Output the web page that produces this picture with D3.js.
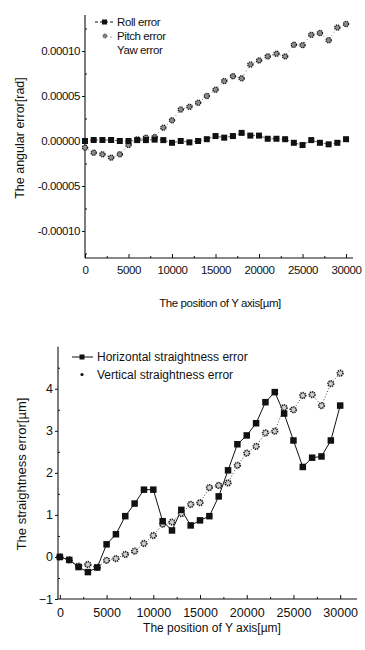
<!DOCTYPE html>
<html>
<head>
<meta charset="utf-8">
<script src="https://cdn.jsdelivr.net/npm/d3@7"></script>
<style>
  body { margin: 0; background: #fff; }
  svg { display: block; }
  text { fill: #111; }
</style>
</head>
<body>
<div id="chart"></div>
<script>
// positions along Y axis, um
const posY = [0, 1000, 2000, 3000, 4000, 5000, 6000, 7000, 8000, 9000, 10000,
  11000, 12000, 13000, 14000, 15000, 16000, 17000, 18000, 19000, 20000,
  21000, 22000, 23000, 24000, 25000, 26000, 27000, 28000, 29000, 30000];

// angular errors, rad
const rollErr = [0, 1.1e-6, 1.1e-6, 1.1e-6, 0, 0, 1e-6, 1e-6, 1.5e-6, 1e-6, -2e-6,
  0, -1.5e-6, 0, 2e-6, 5.5e-6, 3.7e-6, 5.5e-6, 9e-6, 6e-6, 6e-6,
  2.5e-6, 2.5e-6, 2e-6, -2e-6, -4.5e-6, 1e-6, -2e-6, -3.7e-6, -2e-6, 2e-6];
const pitchErr = [-7.4e-6, -13e-6, -14.8e-6, -18.5e-6, -14.8e-6, -4.4e-6, 1.8e-6, 3.7e-6, 4.4e-6, 14.8e-6, 23e-6,
  35e-6, 38e-6, 42.5e-6, 50e-6, 57e-6, 66.6e-6, 72e-6, 69.6e-6, 85e-6, 89.5e-6,
  94e-6, 97e-6, 94e-6, 107e-6, 106.5e-6, 118e-6, 120e-6, 112e-6, 126e-6, 130e-6];

// straightness errors, um
const horizErr = [0, -0.07, -0.24, -0.36, -0.25, 0.3, 0.54, 0.97, 1.27, 1.6, 1.6,
  0.85, 0.63, 1.12, 0.75, 0.87, 0.97, 1.44, 2.06, 2.68, 2.89,
  3.18, 3.68, 3.92, 3.41, 2.77, 2.14, 2.36, 2.39, 2.77, 3.6];
const vertErr = [0, -0.07, -0.22, -0.18, -0.25, -0.08, -0.04, 0.06, 0.14, 0.32, 0.51,
  0.78, 0.83, 1.03, 1.25, 1.29, 1.65, 1.7, 1.76, 2.18, 2.47,
  2.63, 2.95, 2.99, 3.55, 3.5, 3.84, 3.86, 3.6, 4.12, 4.37];

const angTicks = [-0.0001, -0.00005, 0, 0.00005, 0.0001];
const strTicks = [-1, 0, 1, 2, 3, 4];
const posTicks = [0, 5000, 10000, 15000, 20000, 25000, 30000];

const W = 365, H = 650;
const svg = d3.select("#chart").append("svg").attr("width", W).attr("height", H);

const narrow = "'Liberation Sans Narrow', 'Arial Narrow', 'Liberation Sans', Arial, sans-serif";
const sans = "'Liberation Sans', Arial, sans-serif";

function fmtAng(d) {
  return (d < 0 ? "-" : "") + Math.abs(d).toFixed(5);
}

function drawFrame(g, x, y, opt) {
  const [x0, x1] = x.range();
  const [y0, y1] = y.range();
  // axis lines
  g.append("line").attr("x1", x0).attr("x2", x0).attr("y1", y0).attr("y2", y1)
    .attr("stroke", "#111").attr("stroke-width", 1.1);
  g.append("line").attr("x1", x0).attr("x2", x1).attr("y1", y0).attr("y2", y0)
    .attr("stroke", "#111").attr("stroke-width", 1.1);

  // x ticks (inside)
  const xAx = d3.axisBottom(x).tickValues(opt.xTicks).tickSize(-4).tickPadding(opt.xPad)
    .tickFormat(d3.format("d"));
  const gx = g.append("g").attr("transform", `translate(0,${y0})`).call(xAx);
  gx.select(".domain").remove();
  gx.selectAll("text").attr("font-family", opt.font).attr("font-size", opt.tickSize)
    .attr("letter-spacing", opt.spacing);

  const xMinor = d3.axisBottom(x).tickValues(opt.xTicks.slice(0, -1).map(d => d + 2500))
    .tickSize(-2).tickFormat("");
  const gxm = g.append("g").attr("transform", `translate(0,${y0})`).call(xMinor);
  gxm.select(".domain").remove();

  // y ticks (outside, short)
  const yAx = d3.axisLeft(y).tickValues(opt.yTicks).tickSize(3).tickPadding(2)
    .tickFormat(opt.yFormat);
  const gy = g.append("g").attr("transform", `translate(${x0},0)`).call(yAx);
  gy.select(".domain").remove();
  gy.selectAll("text").attr("font-family", opt.font).attr("font-size", opt.tickSize)
    .attr("letter-spacing", opt.spacing);

  const yMinor = d3.axisLeft(y).tickValues(opt.yMinor).tickSize(-2).tickFormat("");
  const gym = g.append("g").attr("transform", `translate(${x0},0)`).call(yMinor);
  gym.select(".domain").remove();

  g.selectAll(".tick line").attr("stroke", "#111");

  // axis titles
  g.append("text").attr("x", opt.xLabelPos[0]).attr("y", opt.xLabelPos[1])
    .attr("text-anchor", "middle").attr("font-family", opt.font)
    .attr("font-size", opt.labelSize).attr("letter-spacing", opt.spacing).text(opt.xLabel);
  g.append("text")
    .attr("transform", `translate(${opt.yLabelPos[0]},${opt.yLabelPos[1]}) rotate(-90)`)
    .attr("text-anchor", "middle").attr("font-family", sans)
    .attr("font-size", opt.yLabelSize).text(opt.yLabel);
}

function squares(g, x, y, vals, size) {
  g.selectAll(null).data(posY).enter().append("rect")
    .attr("x", (d, i) => x(d) - size / 2)
    .attr("y", (d, i) => y(vals[i]) - size / 2)
    .attr("width", size).attr("height", size)
    .attr("fill", "#111");
}

function starDots(g, x, y, vals, r, fill, sw) {
  g.selectAll(null).data(posY).enter().append("circle")
    .attr("cx", d => x(d))
    .attr("cy", (d, i) => y(vals[i]))
    .attr("r", r)
    .attr("fill", fill)
    .attr("stroke", "#1a1a1a").attr("stroke-width", sw)
    .attr("stroke-dasharray", "1.3,0.8");
}

// ---------------- top chart: angular errors ----------------
const xA = d3.scaleLinear().domain([0, 30800]).range([85, 353]);
const yA = d3.scaleLinear().domain([-0.00013, 0.00014]).range([258, 15]);
const gA = svg.append("g");

drawFrame(gA, xA, yA, {
  xTicks: posTicks, yTicks: angTicks,
  yMinor: [-0.000125, -0.000075, -0.000025, 0.000025, 0.000075, 0.000125],
  yFormat: fmtAng, font: narrow, tickSize: 11.5, labelSize: 11.5, spacing: -0.4, xPad: 8,
  xLabel: "The position of Y axis[\u00b5m]", xLabelPos: [220, 307],
  yLabel: "The angular error[rad]", yLabelPos: [24, 138], yLabelSize: 12.5
});

const lineA = (vals) => d3.line().x((d, i) => xA(posY[i])).y((d, i) => yA(vals[i]));
gA.append("path").datum(pitchErr).attr("d", lineA(pitchErr))
  .attr("fill", "none").attr("stroke", "#555").attr("stroke-width", 0.8)
  .attr("stroke-dasharray", "1,3");
gA.append("path").datum(rollErr).attr("d", lineA(rollErr))
  .attr("fill", "none").attr("stroke", "#333").attr("stroke-width", 0.8)
  .attr("stroke-dasharray", "3,2");
starDots(gA, xA, yA, pitchErr, 2.6, "#8c8c8c", 1.3);
squares(gA, xA, yA, rollErr, 6);

// legend
const legA = gA.append("g").attr("font-family", narrow).attr("font-size", 11.5)
  .attr("letter-spacing", -0.4);
legA.append("line").attr("x1", 95).attr("x2", 114).attr("y1", 22).attr("y2", 22)
  .attr("stroke", "#111").attr("stroke-dasharray", "3,2");
legA.append("rect").attr("x", 102).attr("y", 19.5).attr("width", 5).attr("height", 5).attr("fill", "#111");
legA.append("text").attr("x", 117).attr("y", 26).text("Roll error");
legA.append("circle").attr("cx", 105).attr("cy", 36).attr("r", 2)
  .attr("fill", "#888").attr("stroke", "#222").attr("stroke-dasharray", "1,0.8");
legA.append("circle").attr("cx", 111).attr("cy", 37).attr("r", 0.6).attr("fill", "#333");
legA.append("text").attr("x", 117).attr("y", 40).text("Pitch error");
legA.append("text").attr("x", 117).attr("y", 54).text("Yaw error");

// ---------------- bottom chart: straightness errors ----------------
const xB = d3.scaleLinear().domain([-200, 31800]).range([58, 357]);
const yB = d3.scaleLinear().domain([-1, 5]).range([599, 346.7]);
const gB = svg.append("g");

drawFrame(gB, xB, yB, {
  xTicks: posTicks, yTicks: strTicks,
  yMinor: [-0.5, 0.5, 1.5, 2.5, 3.5, 4.5],
  yFormat: d3.format("d"), font: sans, tickSize: 12.5, labelSize: 12, spacing: 0, xPad: 9,
  xLabel: "The position of Y axis[\u00b5m]", xLabelPos: [212, 632],
  yLabel: "The straightness error[\u00b5m]", yLabelPos: [26, 474], yLabelSize: 13
});

const lineB = (vals) => d3.line().x((d, i) => xB(posY[i])).y((d, i) => yB(vals[i]));
gB.append("path").datum(vertErr).attr("d", lineB(vertErr))
  .attr("fill", "none").attr("stroke", "#333").attr("stroke-width", 0.9)
  .attr("stroke-dasharray", "1,2");
gB.append("path").datum(horizErr).attr("d", lineB(horizErr))
  .attr("fill", "none").attr("stroke", "#111").attr("stroke-width", 1);
starDots(gB, xB, yB, vertErr, 2.8, "#d0d0d0", 1.7);
squares(gB, xB, yB, horizErr, 6.5);

const legB = gB.append("g").attr("font-family", sans).attr("font-size", 12);
legB.append("line").attr("x1", 72).attr("x2", 93).attr("y1", 357).attr("y2", 357)
  .attr("stroke", "#111");
legB.append("rect").attr("x", 79.5).attr("y", 354.5).attr("width", 5).attr("height", 5).attr("fill", "#111");
legB.append("text").attr("x", 97).attr("y", 361).text("Horizontal straightness error");
legB.append("circle").attr("cx", 82).attr("cy", 374.5).attr("r", 1.6).attr("fill", "#111");
legB.append("text").attr("x", 97).attr("y", 379).text("Vertical straightness error");
</script>
</body>
</html>
